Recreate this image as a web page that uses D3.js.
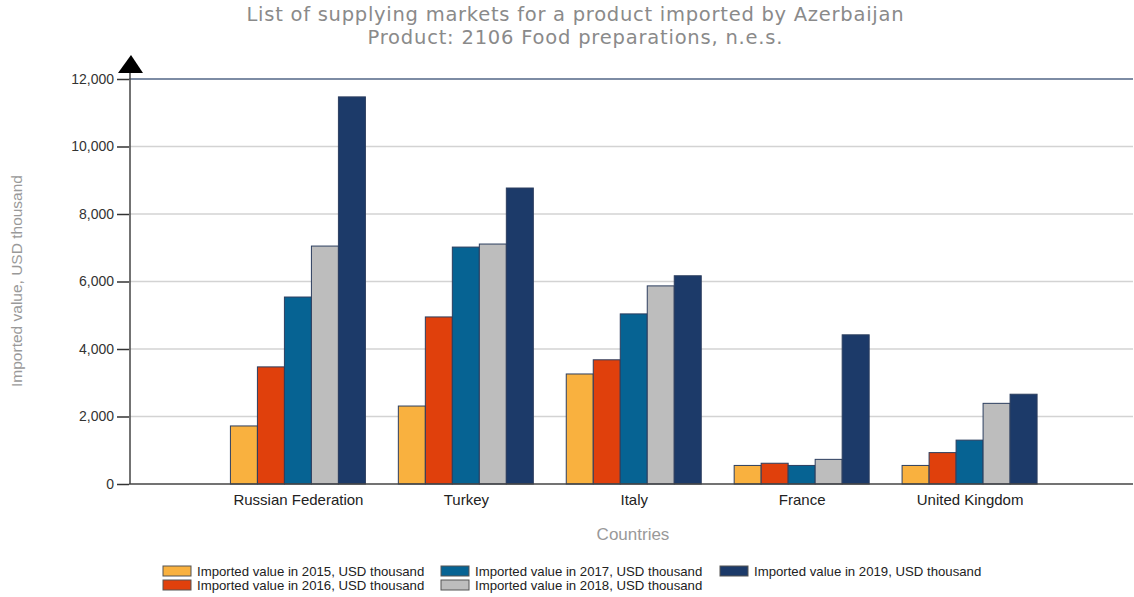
<!DOCTYPE html>
<html><head><meta charset="utf-8">
<script src="https://cdn.jsdelivr.net/npm/d3@7"></script>
<style>body{margin:0;background:#fff}svg{display:block}</style>
</head><body><svg id="c" width="1134" height="597"></svg>
<script>
const categories = ["Russian Federation", "Turkey", "Italy", "France", "United Kingdom"];
const years = ["2015", "2016", "2017", "2018", "2019"];
const v2015 = [1720, 2310, 3260, 550, 550];
const v2016 = [3470, 4950, 3680, 615, 930];
const v2017 = [5540, 7020, 5040, 550, 1300];
const v2018 = [7050, 7110, 5870, 730, 2390];
const v2019 = [11470, 8770, 6170, 4420, 2660];
const seriesValues = [v2015, v2016, v2017, v2018, v2019];
const seriesNames = years.map(y => "Imported value in " + y + ", USD thousand");
const colors = ["#F9B13F", "#E0400C", "#066393", "#BDBDBD", "#1C3A69"];
const yTicks = [0, 2000, 4000, 6000, 8000, 10000, 12000];

const svg = d3.select("#c");
const L = 129, R = 1133, T = 79, B = 484;
const x = d3.scalePoint().domain(["_s", ...categories, "_e"]).range([130, 1137.5]);
const y = d3.scaleLinear().domain([0, 12000]).range([B, T]);
const inner = d3.scaleBand().domain(years).range([-67.5, 67.5]).padding(0);

// title
svg.append("text").attr("x", 575).attr("y", 21).attr("text-anchor", "middle")
  .attr("font-family", "DejaVu Sans").attr("font-size", 19.5).attr("fill", "#8a8a8a")
  .attr("textLength", 657).attr("lengthAdjust", "spacing")
  .text("List of supplying markets for a product imported by Azerbaijan");
svg.append("text").attr("x", 575).attr("y", 44).attr("text-anchor", "middle")
  .attr("font-family", "DejaVu Sans").attr("font-size", 19.5).attr("fill", "#8a8a8a")
  .attr("textLength", 415).attr("lengthAdjust", "spacing")
  .text("Product: 2106 Food preparations, n.e.s.");

// gridlines
svg.append("g").selectAll("line").data(yTicks.filter(t => t > 0 && t < 12000)).join("line")
  .attr("x1", L).attr("x2", R).attr("y1", d => y(d)).attr("y2", d => y(d))
  .attr("stroke", "#d3d3d3").attr("stroke-width", 1.5);
svg.append("line").attr("x1", L).attr("x2", R).attr("y1", y(12000)).attr("y2", y(12000))
  .attr("stroke", "#7d8ca4").attr("stroke-width", 2);

// bars
const g = svg.append("g");
seriesValues.forEach((vals, si) => {
  g.append("g").selectAll("rect").data(vals).join("rect")
    .attr("x", (d, i) => x(categories[i]) + inner(years[si]))
    .attr("y", d => y(d))
    .attr("width", inner.bandwidth())
    .attr("height", d => B - y(d))
    .attr("fill", colors[si])
    .attr("stroke", "#2c3e5f").attr("stroke-width", 1);
});

// y axis
const yAxis = d3.axisLeft(y).tickValues(yTicks).tickFormat(d3.format(",")).tickSize(12).tickPadding(3);
const ya = svg.append("g").attr("transform", `translate(${L},0)`).call(yAxis);
ya.select(".domain").remove();
ya.selectAll(".tick line").attr("stroke", "#333").attr("stroke-width", 1.5);
ya.selectAll(".tick text").attr("font-family", "Liberation Sans, Arial").attr("font-size", 14).attr("fill", "#333");
svg.append("line").attr("x1", L + 1).attr("x2", L + 1).attr("y1", 65).attr("y2", B)
  .attr("stroke", "#444").attr("stroke-width", 1.5);
svg.append("path").attr("d", `M${L - 11},73 L${L + 2},55 L${L + 14},73 Z`).attr("fill", "#000");

// x axis
const xAxis = d3.axisBottom(x).tickValues(categories).tickSize(0).tickPadding(10);
const xa = svg.append("g").attr("transform", `translate(0,${B})`).call(xAxis);
xa.select(".domain").remove();
xa.selectAll(".tick text").attr("font-family", "Liberation Sans, Arial").attr("font-size", 15).attr("fill", "#222");
svg.append("line").attr("x1", L).attr("x2", R).attr("y1", B).attr("y2", B)
  .attr("stroke", "#444").attr("stroke-width", 1.5);

// axis titles
svg.append("text").attr("x", 633).attr("y", 540).attr("text-anchor", "middle")
  .attr("font-family", "Liberation Sans, Arial").attr("font-size", 17).attr("fill", "#999")
  .text("Countries");
svg.append("text").attr("transform", "translate(22,281) rotate(-90)").attr("text-anchor", "middle")
  .attr("font-family", "Liberation Sans, Arial").attr("font-size", 15.5).attr("fill", "#999")
  .text("Imported value, USD thousand");

// legend
const legPos = [[163, 566], [163, 580], [441, 566], [441, 580], [720, 566]];
const lg = svg.append("g").selectAll("g").data(seriesNames).join("g")
  .attr("transform", (d, i) => `translate(${legPos[i][0]},${legPos[i][1]})`);
lg.append("rect").attr("width", 28).attr("height", 10).attr("fill", (d, i) => colors[i])
  .attr("stroke", "#555").attr("stroke-width", 1);
lg.append("text").attr("x", 34).attr("y", 10).attr("font-family", "Liberation Sans, Arial")
  .attr("font-size", 13.2).attr("fill", "#222").text(d => d);
</script></body></html>
